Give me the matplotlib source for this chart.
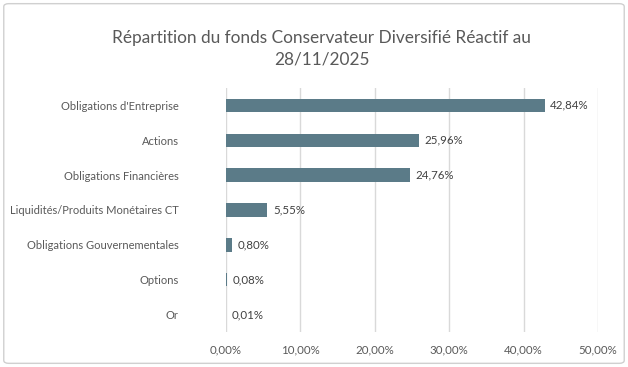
import matplotlib
matplotlib.use('Agg')
import matplotlib.pyplot as plt
from matplotlib.patches import FancyBboxPatch
from matplotlib.ticker import FuncFormatter

categories = [
    "Obligations d'Entreprise",
    "Actions",
    "Obligations Financières",
    "Liquidités/Produits Monétaires CT",
    "Obligations Gouvernementales",
    "Options",
    "Or",
]
values = [42.84, 25.96, 24.76, 5.55, 0.80, 0.08, 0.01]
title = "Répartition du fonds Conservateur Diversifié Réactif au\n28/11/2025"

plt.rcParams['font.family'] = ['Lato', 'DejaVu Sans']
text_color = '#595959'
bar_color = '#5B7B88'

fig = plt.figure(figsize=(6.28, 3.67), dpi=100)
fig.patch.set_facecolor('white')
fig.patches.append(FancyBboxPatch(
    (0.006, 0.01), 0.988, 0.98,
    boxstyle='round,pad=0,rounding_size=0.008',
    transform=fig.transFigure, facecolor='none', edgecolor='#D0D0D0', linewidth=1.0,
))

ax = fig.add_axes([0.360, 0.0954, 0.592, 0.665])
ypos = list(range(len(categories)))
ax.barh(ypos, values, height=0.385, color=bar_color, zorder=3)
for y, v in zip(ypos, values):
    ax.text(v + 0.75, y, f"{v:.2f}%".replace('.', ','), va='center', ha='left',
            fontsize=8.3, color='#404040', zorder=4)

ax.set_xlim(0, 50)
ax.set_ylim(len(categories) - 0.5, -0.5)
ax.set_xticks([0, 10, 20, 30, 40, 50])
ax.xaxis.set_major_formatter(FuncFormatter(lambda x, p: f"{x:.2f}%".replace('.', ',')))
ax.set_yticks(ypos)
ax.set_yticklabels(categories)
ax.tick_params(axis='both', length=0, labelsize=8.3, colors=text_color)
ax.tick_params(axis='y', labelsize=8.0, pad=34)
ax.tick_params(axis='x', pad=9)
ax.grid(axis='x', color='#D9D9D9', linewidth=1.0, zorder=0)
for s in ax.spines.values():
    s.set_visible(False)

fig.text(0.512, 0.867, title, ha='center', va='center', fontsize=12.4,
         color=text_color, linespacing=1.45)

plt.savefig('out.png', dpi=100)
